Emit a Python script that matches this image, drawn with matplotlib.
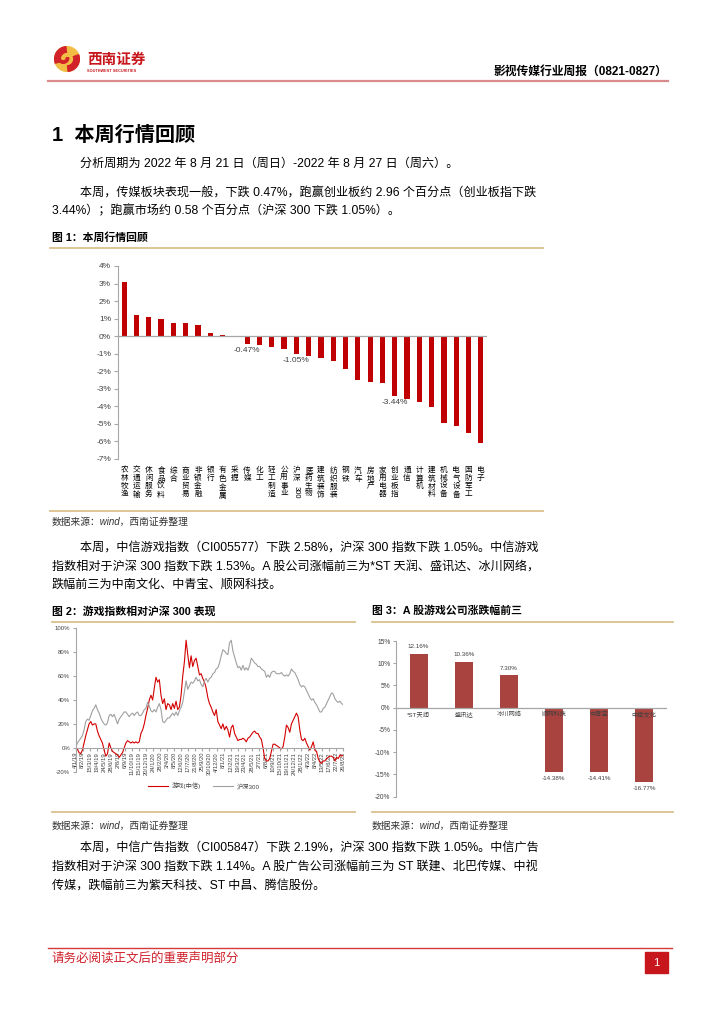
#!/usr/bin/env python3
"""
Weekly media-sector report page: sector returns of the week, the game index
against CSI 300, and the best / worst game stocks of the week.
"""
import matplotlib
matplotlib.use("Agg")
import matplotlib.pyplot as plt
from matplotlib.patches import Circle, Wedge, Rectangle
import numpy as np
import pandas as pd

W, H = 724, 1024
AXIS_GRAY = "#a6a6a6"
TICK_TEXT = "#404040"
TAN = "#dcc08e"

plt.rcParams['font.family'] = ['Liberation Sans', 'Noto Sans CJK SC', 'DejaVu Sans']

# figure 1: sector returns of the week (%)
sectors = ["农林牧渔", "交通运输", "休闲服务", "食品饮料", "综合", "商业贸易",
           "非银金融", "银行", "有色金属", "采掘", "传媒", "化工", "轻工制造",
           "公用事业", "沪深300", "医药生物", "建筑装饰", "纺织服装", "钢铁",
           "汽车", "房地产", "家用电器", "创业板指", "通信", "计算机",
           "建筑材料", "机械设备", "电气设备", "国防军工", "电子"]
sector_returns = [3.07, 1.18, 1.10, 0.97, 0.74, 0.74, 0.65, 0.19, 0.06, 0.01,
                  -0.47, -0.50, -0.65, -0.76, -1.05, -1.14, -1.26, -1.40, -1.90,
                  -2.51, -2.60, -2.66, -3.44, -3.61, -3.75, -4.03, -4.98, -5.13,
                  -5.51, -6.12]
labelled_sectors = ["传媒", "沪深300", "创业板指"]

# figure 2: cumulative return since 2019-01-04 (%), weekly
series_start = "2019-01-04"
series_end = "2022-08-26"
game_index = [0, -1, -4, -5, -2, 4, 10, 15, 20, 22, 19, 20, 20, 14, 10, 7, 4, -2,
              -7, -5, 4, 0, -3, -4, -5, -6, -8, -6, -4, 0, 4, 6, 5, 4, 5, 4, 5, 4,
              5, 12, 15, 20, 27, 33, 40, 44, 40, 50, 59, 55, 57, 44, 37, 41, 32,
              37, 36, 32, 37, 33, 39, 32, 34, 44, 60, 72, 90, 78, 67, 77, 68, 73,
              75, 68, 61, 62, 58, 55, 50, 42, 37, 34, 30, 27, 32, 22, 19, 16, 20,
              15, 18, 15, 9, 17, 19, 12, 9, 6, 7, 7, 8, 7, 5, 8, 9, 11, 13, 14,
              12, 12, 9, 7, 0, -9, -11, -11, -9, -3, 3, 3, 2, 1, 0, -1, 1, 9, 19,
              17, 13, 20, 23, 26, 29, 26, 15, 7, 6, 8, 4, 1, -2, 1, 5, -2, -3, -9,
              -12, -13, -11, -11, -9, -8, -7, -7, -8, -11, -8, -9, -6, -7, -6]
csi300 = [0, 4, 6, 8, 10, 15, 22, 24, 23, 27, 31, 33, 36, 32, 29, 25, 22, 20, 19,
          21, 27, 28, 26, 28, 24, 20, 24, 26, 28, 30, 30, 28, 26, 28, 29, 27, 29,
          30, 27, 27, 29, 32, 33, 38, 35, 31, 30, 32, 30, 34, 37, 32, 22, 21, 23,
          25, 25, 27, 29, 27, 30, 27, 31, 34, 38, 47, 56, 49, 52, 55, 54, 56, 59,
          56, 57, 53, 51, 56, 58, 55, 58, 59, 62, 63, 66, 67, 71, 77, 82, 81, 79,
          78, 88, 90, 81, 76, 71, 67, 68, 65, 69, 65, 67, 65, 69, 75, 73, 71, 70,
          68, 68, 66, 65, 64, 59, 61, 59, 63, 64, 64, 62, 62, 62, 63, 61, 60, 61,
          60, 62, 66, 64, 63, 60, 57, 53, 51, 52, 51, 48, 45, 42, 40, 41, 38, 36,
          33, 30, 30, 33, 34, 37, 40, 43, 46, 45, 41, 39, 38, 39, 37, 36]

# figure 3: best and worst game stocks of the week (%)
stocks = ["*ST天润", "盛讯达", "冰川网络", "顺网科技", "中青宝", "中南文化"]
stock_returns = [12.16, 10.36, 7.30, -14.38, -14.41, -16.77]


def fx(x):
    return x / W
# end def: fx

def fy(y):
    return 1 - y / H
# end def: fy

def put(fig, x, y, s, **kw):
    kw.setdefault('va', 'center')
    kw.setdefault('fontsize', 8.7)
    fig.text(fx(x), fy(y), s, **kw)
# end def: put

def hline(fig, x0, x1, y, color, lw=1.0):
    fig.add_artist(plt.Line2D([fx(x0), fx(x1)], [fy(y), fy(y)], color=color,
                              lw=lw, transform=fig.transFigure))
# end def: hline

def box(fig, left, top, right, bottom):
    return fig.add_axes([fx(left), fy(bottom), (right - left) / W, (bottom - top) / H])
# end def: box

def pct(v, pos=None):
    return f"{v:.0f}%"
# end def: pct

def draw_page(fig):
    # header
    logo = box(fig, 54, 46, 80, 72)
    logo.set_aspect('equal')
    logo.set_xlim(-1.05, 1.05)
    logo.set_ylim(-1.05, 1.05)
    logo.axis('off')
    logo.add_patch(Circle((0, 0), 1, color="#f2bd45"))
    logo.add_patch(Wedge((0, 0), 1, 95, 200, width=0.45, color="#d2232a"))
    logo.add_patch(Wedge((0, 0), 1, 275, 20, width=0.45, color="#d2232a"))
    logo.add_patch(Wedge((-0.3, 0.1), 0.45, 180, 360, width=0.2, color="#d2232a"))
    put(fig, 87, 60, "西南证券", fontsize=10.5, color="#c8161d", weight='bold')
    put(fig, 87, 71, "SOUTHWEST SECURITIES", fontsize=2.8, color="#c8161d", weight='bold')
    put(fig, 667, 72, "影视传媒行业周报（0821-0827）", fontsize=8.5, weight='bold', ha='right')
    hline(fig, 48, 668, 81, "#d98a8c", 1.6)

    put(fig, 52, 135, "1  本周行情回顾", fontsize=14.5, weight='bold')
    put(fig, 80, 164, "分析周期为 2022 年 8 月 21 日（周日）-2022 年 8 月 27 日（周六）。")
    put(fig, 80, 193, "本周，传媒板块表现一般，下跌 0.47%，跑赢创业板约 2.96 个百分点（创业板指下跌")
    put(fig, 52, 211, "3.44%）；跑赢市场约 0.58 个百分点（沪深 300 下跌 1.05%）。")

    put(fig, 52, 238, "图 1：本周行情回顾", fontsize=7.8, weight='bold')
    hline(fig, 50, 543, 248, TAN, 1.3)
    hline(fig, 50, 543, 511, TAN, 1.3)
    put(fig, 52, 522, "数据来源：wind，西南证券整理", fontsize=7, style='italic', color="#333333")

    put(fig, 80, 548, "本周，中信游戏指数（CI005577）下跌 2.58%，沪深 300 指数下跌 1.05%。中信游戏")
    put(fig, 52, 567, "指数相对于沪深 300 指数下跌 1.53%。A 股公司涨幅前三为*ST 天润、盛讯达、冰川网络，")
    put(fig, 52, 585, "跌幅前三为中南文化、中青宝、顺网科技。")

    put(fig, 52, 611, "图 2：游戏指数相对沪深 300 表现", fontsize=7.8, weight='bold')
    put(fig, 372, 611, "图 3：A 股游戏公司涨跌幅前三", fontsize=7.8, weight='bold')
    hline(fig, 52, 355, 622, TAN, 1.3)
    hline(fig, 372, 673, 622, TAN, 1.3)
    hline(fig, 52, 355, 812, TAN, 1.3)
    hline(fig, 372, 673, 812, TAN, 1.3)
    put(fig, 52, 826, "数据来源：wind，西南证券整理", fontsize=7, style='italic', color="#333333")
    put(fig, 372, 826, "数据来源：wind，西南证券整理", fontsize=7, style='italic', color="#333333")

    put(fig, 80, 848, "本周，中信广告指数（CI005847）下跌 2.19%，沪深 300 指数下跌 1.05%。中信广告")
    put(fig, 52, 867, "指数相对于沪深 300 指数下跌 1.14%。A 股广告公司涨幅前三为 ST 联建、北巴传媒、中视")
    put(fig, 52, 886, "传媒，跌幅前三为紫天科技、ST 中昌、腾信股份。")

    # footer
    hline(fig, 48, 672, 948, "#d63a3a", 1.0)
    put(fig, 52, 959, "请务必阅读正文后的重要声明部分", fontsize=9, color="#d0202a")
    fig.add_artist(Rectangle((fx(645), fy(973)), 23 / W, 21 / H, color="#c8161d",
                             transform=fig.transFigure))
    put(fig, 656.5, 962.5, "1", fontsize=8, color="white", ha='center')
# end def: draw_page

def draw_sectors(fig):
    ax = box(fig, 118, 266, 487, 458.7)
    x = np.arange(len(sectors))
    ax.bar(x, sector_returns, width=0.42, color="#c00000")
    ax.set_xlim(-0.5, len(sectors) - 0.5)
    ax.set_ylim(-7, 4)
    ax.set_yticks(range(-7, 5))
    ax.yaxis.set_major_formatter(pct)
    for side in ['top', 'right', 'bottom']:
        ax.spines[side].set_visible(False)
    ax.spines['left'].set_color(AXIS_GRAY)
    ax.tick_params(axis='y', length=3, color=AXIS_GRAY, labelsize=6,
                   labelcolor=TICK_TEXT, pad=2)
    ax.set_xticks([])
    ax.axhline(0, color=AXIS_GRAY, lw=0.9)
    ax.patch.set_alpha(0)

    for i, name in enumerate(sectors):
        if name == "沪深300":
            ax.annotate("沪\n深", (i, 0), xycoords=('data', 'axes fraction'),
                        xytext=(0, -6), textcoords='offset points', ha='center',
                        va='top', fontsize=5.5, linespacing=1.15, annotation_clip=False)
            ax.annotate("300", (i, 0), xycoords=('data', 'axes fraction'),
                        xytext=(0, -19.5), textcoords='offset points', ha='center',
                        va='top', fontsize=5.5, rotation=-90, annotation_clip=False)
        else:
            ax.annotate("\n".join(name), (i, 0), xycoords=('data', 'axes fraction'),
                        xytext=(0, -6), textcoords='offset points', ha='center',
                        va='top', fontsize=5.5, linespacing=1.15, annotation_clip=False)

    for name in labelled_sectors:
        i = sectors.index(name)
        v = sector_returns[i]
        ax.annotate(f"{v:.2f}%", (i, v), xytext=(0, -2), textcoords='offset points',
                    ha='center', va='top', fontsize=6, color=TICK_TEXT)
# end def: draw_sectors

def draw_game_index(fig):
    ax = box(fig, 75.7, 628.3, 343.3, 771.7)
    dates = pd.date_range(series_start, series_end, periods=len(game_index))
    ax.plot(dates, game_index, color="#d40000", lw=0.8, label="游戏(中信)")
    ax.plot(dates, csi300, color="#a0a0a0", lw=0.8, label="沪深300")
    ax.set_xlim(dates[0], dates[-1])
    ax.set_ylim(-20, 100)
    ax.set_yticks(range(-20, 101, 20))
    ax.yaxis.set_major_formatter(pct)

    ticks = pd.date_range(series_start, series_end, freq='35D')
    ax.set_xticks(ticks, [f"{d.day}/{d.month}/{d.year % 100}" for d in ticks])
    ax.spines['bottom'].set_position(('data', 0))
    for side in ['top', 'right']:
        ax.spines[side].set_visible(False)
    for side in ['left', 'bottom']:
        ax.spines[side].set_color(AXIS_GRAY)
    ax.tick_params(axis='x', length=2, color=AXIS_GRAY, pad=1, labelrotation=90,
                   labelsize=4.2, labelcolor=TICK_TEXT)
    ax.tick_params(axis='y', length=2.5, color=AXIS_GRAY, labelsize=4.3,
                   labelcolor=TICK_TEXT, pad=1.5)
    for lab in ax.get_xticklabels():
        lab.set_rotation(90)
        lab.set_ha('center')
        lab.set_va('top')

    fig.legend(*ax.get_legend_handles_labels(), loc='center',
               bbox_to_anchor=(fx(204), fy(786)), ncol=2, frameon=False,
               fontsize=4.5, handlelength=3.2, columnspacing=2.0, handletextpad=0.6,
               labelcolor=TICK_TEXT)
# end def: draw_game_index

def draw_stocks(fig):
    ax = box(fig, 396, 641, 666.7, 796.7)
    x = np.arange(len(stocks))
    ax.bar(x, stock_returns, width=0.4, color="#a9433f")
    ax.set_xlim(-0.5, len(stocks) - 0.5)
    ax.set_ylim(-20, 15)
    ax.set_yticks(range(-20, 16, 5))
    ax.yaxis.set_major_formatter(pct)
    for side in ['top', 'right', 'bottom']:
        ax.spines[side].set_visible(False)
    ax.spines['left'].set_color(AXIS_GRAY)
    ax.tick_params(axis='y', length=2.5, color=AXIS_GRAY, labelsize=4.8,
                   labelcolor=TICK_TEXT, pad=1.5)
    ax.set_xticks([])
    ax.axhline(0, color=AXIS_GRAY, lw=0.9)

    for i, v in enumerate(stock_returns):
        up = v > 0
        ax.annotate(f"{v:.2f}%", (i, v), xytext=(0, 3 if up else -3),
                    textcoords='offset points', ha='center',
                    va='bottom' if up else 'top', fontsize=4.5, color=TICK_TEXT)
    for i, name in enumerate(stocks):
        ax.annotate(name, (i, 0), xytext=(0, -3), textcoords='offset points',
                    ha='center', va='top', fontsize=4.5, color=TICK_TEXT)
# end def: draw_stocks

def main():
    fig = plt.figure(figsize=(W / 100, H / 100), dpi=100)
    draw_page(fig)
    draw_sectors(fig)
    draw_game_index(fig)
    draw_stocks(fig)
    fig.savefig("out.png", dpi=100)
# end def: main

if __name__ == "__main__":
    main()
# end if
